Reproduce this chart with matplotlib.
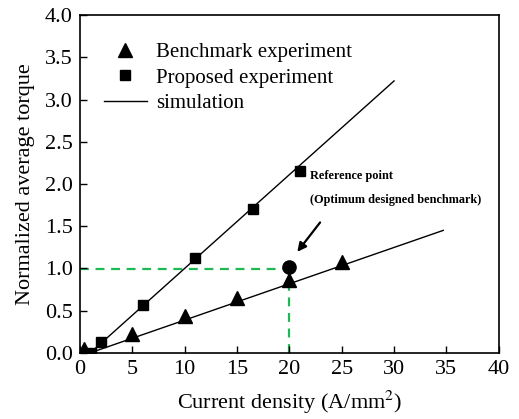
import numpy as np
import matplotlib
matplotlib.use("Agg")
import matplotlib.pyplot as plt

plt.rcParams['font.family'] = ['Liberation Serif', 'DejaVu Serif']
plt.rcParams['mathtext.fontset'] = 'stix'

# measured points
bench_x = [0.4, 5, 10, 15, 20, 25]
bench_y = [0.05, 0.22, 0.44, 0.65, 0.86, 1.07]
prop_x = [1.1, 2, 6, 11, 16.5, 21]
prop_y = [0.0, 0.13, 0.57, 1.12, 1.70, 2.15]

# simulation lines
sim_bench_x = [1.0, 34.7]
sim_bench_y = [0.0, 1.45]
sim_prop_x = [1.0, 30.0]
sim_prop_y = [0.0, 3.22]

ref_x = 20
ref_y = 1.02
ref_guide_y = 0.99

xticks = [0, 5, 10, 15, 20, 25, 30, 35, 40]
yticks = [0.0, 0.5, 1.0, 1.5, 2.0, 2.5, 3.0, 3.5, 4.0]

fig = plt.figure(figsize=(5.19, 4.19), dpi=100)
ax = fig.add_axes([0.154, 0.158, 0.807, 0.806])

# green guide lines to the reference point
ax.plot([0, ref_x], [ref_guide_y, ref_guide_y], color="#1db954", linestyle=(0, (4, 3)), linewidth=1.6, zorder=1)
ax.plot([ref_x, ref_x], [0, ref_guide_y], color="#1db954", linestyle=(0, (4, 3)), linewidth=1.6, zorder=1)

ax.plot(sim_prop_x, sim_prop_y, color="black", linewidth=1.0, zorder=2)
h_sim, = ax.plot(sim_bench_x, sim_bench_y, color="black", linewidth=1.0, zorder=2, label="simulation")
h_bench, = ax.plot(bench_x, bench_y, linestyle="none", marker="^", color="black", markersize=10, zorder=3, label="Benchmark experiment")
h_prop, = ax.plot(prop_x, prop_y, linestyle="none", marker="s", color="black", markersize=7.5, zorder=3, label="Proposed experiment")
ax.plot([ref_x], [ref_y], linestyle="none", marker="o", color="black", markersize=9.5, zorder=4)

ax.annotate("", xy=(20.6, 1.17), xytext=(23.1, 1.57),
            arrowprops=dict(arrowstyle="-|>", color="black", lw=1.6, mutation_scale=13))
ax.text(22.0, 2.09, "Reference point", fontsize=8.8, fontweight="bold", va="center", ha="left")
ax.text(22.0, 1.81, "(Optimum designed benchmark)", fontsize=8.8, fontweight="bold", va="center", ha="left")

ax.legend(handles=[h_bench, h_prop, h_sim], loc="upper left", bbox_to_anchor=(0.057, 0.918),
          frameon=False, fontsize=15, handlelength=2.07, handletextpad=0.43, labelspacing=0.28,
          borderaxespad=0, borderpad=0)

ax.set_xlim(0, 40)
ax.set_ylim(0, 4.0)
ax.set_xticks(xticks)
ax.set_yticks(yticks)
ax.set_yticklabels([f"{v:.1f}" for v in yticks])
ax.tick_params(direction="in", length=5, width=1.0, labelsize=16, top=False, right=False, pad=5)
for sp in ax.spines.values():
    sp.set_linewidth(1.2)

ax.set_xlabel("Current density (A/mm$^2$)", fontsize=16, labelpad=7)
ax.set_ylabel("Normalized average torque", fontsize=16, labelpad=7)

fig.savefig("out.png", dpi=100)
